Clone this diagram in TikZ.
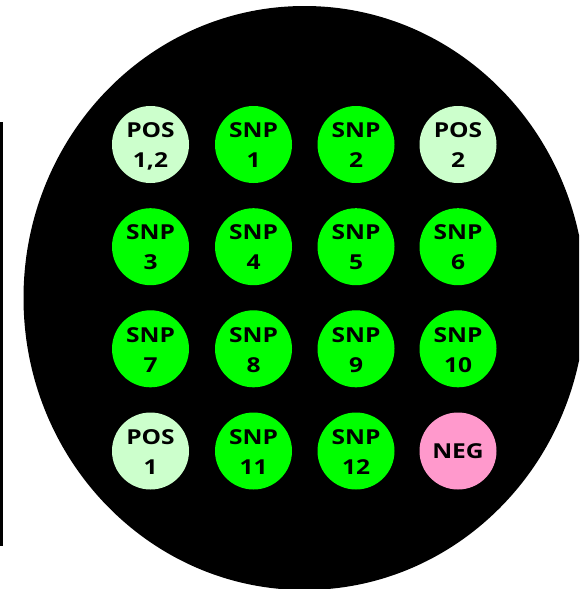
\documentclass[tikz,border=0pt]{standalone}
\usepackage{fontspec}
\setmainfont{Open Sans}
\newfontfamily\wellfont[FakeStretch=1.19]{Open Sans}
\definecolor{poscol}{RGB}{204,255,204}
\definecolor{snpcol}{RGB}{0,255,0}
\definecolor{negcol}{RGB}{255,153,204}
\tikzset{
  spot/.style={circle, draw=none, minimum size=77pt, inner sep=0pt},
  poswell/.style={spot, fill=poscol},
  snpwell/.style={spot, fill=snpcol},
  negwell/.style={spot, fill=negcol},
  lbl/.style={font=\wellfont\fontsize{20.6}{24}\selectfont\bfseries, inner sep=0pt, anchor=base, text=black},
}
% \well{name}{x}{y}{style}{upper line}{lower line}
\newcommand{\well}[6]{%
  \node[#4] (#1) at (#2,#3) {};
  \node[lbl] (#1-a) at ([yshift=6.8pt]#1.center) {#5};
  \node[lbl] (#1-b) at ([yshift=-23.2pt]#1.center) {#6};
}
\begin{document}
\begin{tikzpicture}[x=1pt,y=-1pt]
  \useasboundingbox (0,0) rectangle (579,589);
  % side bar
  \fill[black] (0,121.5) rectangle (2.7,546);
  % plate
  \begin{scope}
    \clip (0,0) rectangle (579,589);
    \fill[black] (304.5,298) ellipse [x radius=281, y radius=292];
  \end{scope}
  % wells, row by row
  \well{p12}{150.5}{144.5}{poswell}{POS}{1,2}
  \well{s1}{253.5}{144.5}{snpwell}{SNP}{1}
  \well{s2}{356}{144.5}{snpwell}{SNP}{2}
  \well{p2}{458}{144.5}{poswell}{POS}{2}
  \well{s3}{150.5}{246.7}{snpwell}{SNP}{3}
  \well{s4}{253.5}{246.7}{snpwell}{SNP}{4}
  \well{s5}{356}{246.7}{snpwell}{SNP}{5}
  \well{s6}{458}{246.7}{snpwell}{SNP}{6}
  \well{s7}{150.5}{348.8}{snpwell}{SNP}{7}
  \well{s8}{253.5}{348.8}{snpwell}{SNP}{8}
  \well{s9}{356}{348.8}{snpwell}{SNP}{9}
  \well{s10}{458}{348.8}{snpwell}{SNP}{10}
  \well{p1}{150.5}{451}{poswell}{POS}{1}
  \well{s11}{253.5}{451}{snpwell}{SNP}{11}
  \well{s12}{356}{451}{snpwell}{SNP}{12}
  \node[negwell] (neg) at (458,451) {};
  \node[lbl] (neg-a) at ([yshift=-7.4pt]neg.center) {NEG};
\end{tikzpicture}
\end{document}
